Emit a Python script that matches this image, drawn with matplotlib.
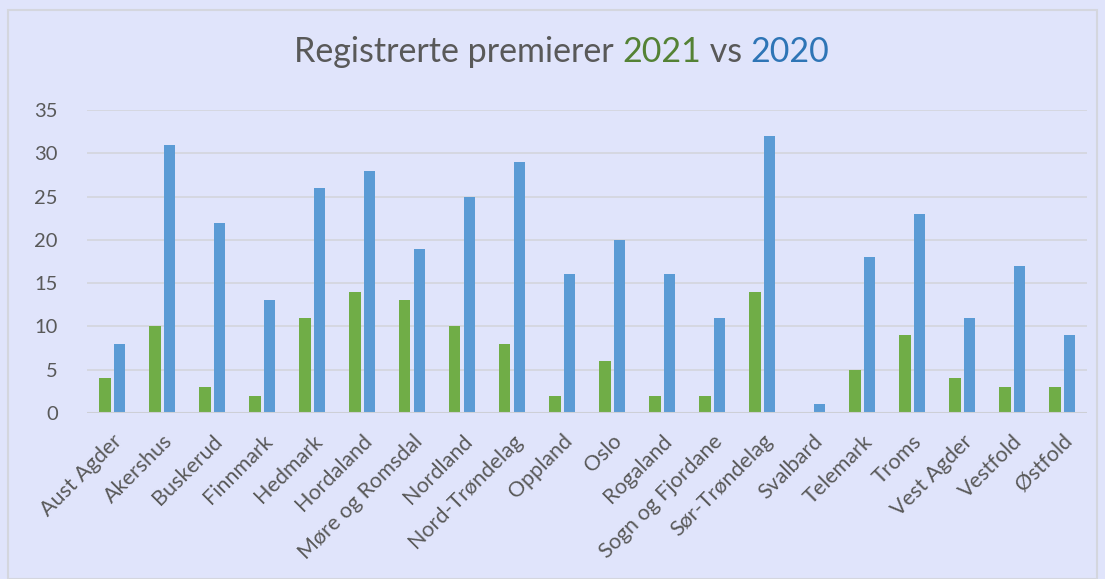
import matplotlib
matplotlib.use("Agg")
import matplotlib.pyplot as plt
import numpy as np
from matplotlib.patches import Rectangle

fylker = ["Aust Agder", "Akershus", "Buskerud", "Finnmark", "Hedmark", "Hordaland",
          "Møre og Romsdal", "Nordland", "Nord-Trøndelag", "Oppland", "Oslo", "Rogaland",
          "Sogn og Fjordane", "Sør-Trøndelag", "Svalbard", "Telemark", "Troms",
          "Vest Agder", "Vestfold", "Østfold"]
y2021 = [4, 10, 3, 2, 11, 14, 13, 10, 8, 2, 6, 2, 2, 14, 0, 5, 9, 4, 3, 3]
y2020 = [8, 31, 22, 13, 26, 28, 19, 25, 29, 16, 20, 16, 11, 32, 1, 18, 23, 11, 17, 9]
yticks = [0, 5, 10, 15, 20, 25, 30, 35]

bg = "#E0E4FB"
green = "#70AD47"
blue = "#5B9BD5"
txt = "#595959"
plt.rcParams["font.family"] = ["Lato", "DejaVu Sans"]

W, H = 1105, 579
fig = plt.figure(figsize=(W / 100, H / 100), dpi=100)
fig.patch.set_facecolor(bg)
fig.patches.append(Rectangle((8 / W, 0), (W - 16) / W, 1 - 10 / H, transform=fig.transFigure,
                             fill=False, edgecolor="#D4D6DE", linewidth=1.5))

ax = fig.add_axes([87 / W, 1 - 413 / H, 1000 / W, 303 / H])
ax.set_facecolor(bg)
x = np.arange(len(fylker))
bw = 0.23
ax.bar(x - bw / 2 - 0.03, y2021, bw, color=green, zorder=3)
ax.bar(x + bw / 2 + 0.03, y2020, bw, color=blue, zorder=3)
ax.set_xlim(-0.5, len(fylker) - 0.5)
ax.set_ylim(0, 35)
ax.set_yticks(yticks)
ax.yaxis.grid(True, color="#D3D5DC", linewidth=1.2, zorder=0)
for s in ax.spines.values():
    s.set_visible(False)
ax.axhline(0, color="#CDCFD6", linewidth=1.5, zorder=4)
ax.tick_params(axis="y", length=0, labelsize=14.5, colors=txt, pad=21)
ax.set_xticks(x)
ax.set_xticklabels(fylker, rotation=45, ha="right", rotation_mode="anchor")
ax.tick_params(axis="x", length=0, labelsize=15.5, colors=txt, pad=13)

# title in three colours
parts = [("Registrerte premierer ", txt), ("2021", "#548235"), (" vs ", txt), ("2020", "#2E75B6")]
fig.canvas.draw()
r = fig.canvas.get_renderer()
objs = []
for s, c in parts:
    t = fig.text(0, 1 - 52 / H, s, color=c, fontsize=24.5, va="center", ha="left")
    objs.append(t)
widths = [t.get_window_extent(r).width for t in objs]
xpos = (W - sum(widths)) / 2 + 9
for t, w in zip(objs, widths):
    t.set_x(xpos / W)
    xpos += w

fig.savefig("out.png", dpi=100, facecolor=bg)
